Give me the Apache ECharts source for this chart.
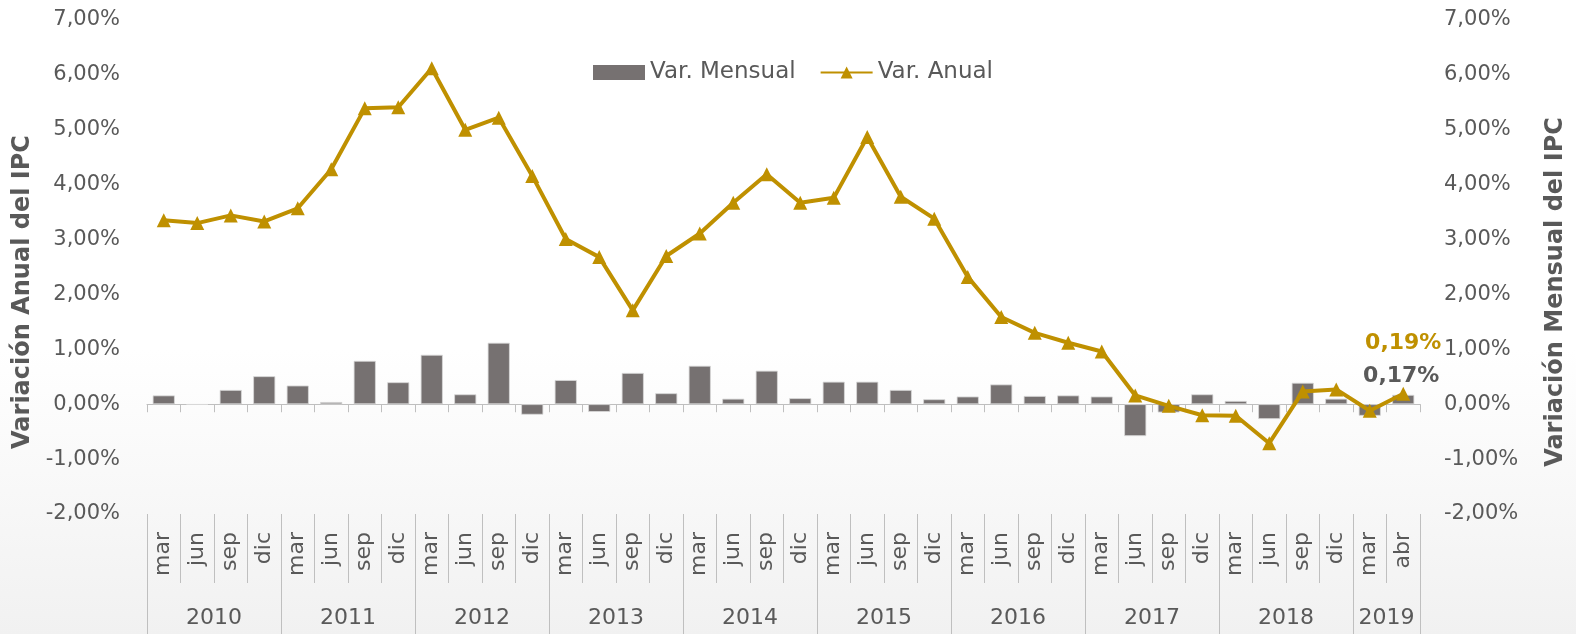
<!DOCTYPE html>
<html>
<head>
<meta charset="utf-8">
<script src="https://cdn.jsdelivr.net/npm/echarts@6/dist/echarts.min.js"></script>
<style>
html,body{margin:0;padding:0;background:#fff;}
#chart{width:1576px;height:634px;}
</style>
</head>
<body>
<div id="chart"></div>
<script>
// ---- data ----
const monthLabels = [
  'mar','jun','sep','dic', 'mar','jun','sep','dic', 'mar','jun','sep','dic',
  'mar','jun','sep','dic', 'mar','jun','sep','dic', 'mar','jun','sep','dic',
  'mar','jun','sep','dic', 'mar','jun','sep','dic', 'mar','jun','sep','dic',
  'mar','abr'
];
const years = ['2010','2011','2012','2013','2014','2015','2016','2017','2018','2019'];
const yearSpans = [4,4,4,4,4,4,4,4,4,2];
const varMensual = [
  0.16, -0.01, 0.26, 0.51,   0.34, 0.04, 0.79, 0.40,   0.90, 0.18, 1.12, -0.19,
  0.44, -0.14, 0.57, 0.20,   0.70, 0.10, 0.61, 0.11,   0.41, 0.41, 0.26, 0.09,
  0.14, 0.36, 0.15, 0.16,    0.14, -0.58, -0.15, 0.18, 0.06, -0.27, 0.39, 0.10,
  -0.21, 0.17
];
const varAnual = [
  3.35, 3.30, 3.44, 3.33,   3.57, 4.28, 5.39, 5.41,   6.12, 5.00, 5.22, 4.16,
  3.01, 2.68, 1.71, 2.70,   3.11, 3.67, 4.19, 3.67,   3.76, 4.87, 3.78, 3.38,
  2.32, 1.59, 1.30, 1.12,   0.96, 0.16, -0.03, -0.20, -0.21, -0.71, 0.23, 0.27,
  -0.12, 0.19
];
const yTicks = {min: -2, max: 7, step: 1};

// ---- helpers ----
const fmt = v => v.toFixed(2).replace('.', ',') + '%';
const yearBounds = [0];
yearSpans.forEach(s => yearBounds.push(yearBounds[yearBounds.length - 1] + s));
const yearCenters = yearSpans.map((s, i) => yearBounds[i] + s / 2);
const nCat = monthLabels.length;
const FONT = "'DejaVu Sans', 'Open Sans', sans-serif";
const TXT = '#595959';
const AXC = '#BFBFBF';

const chart = echarts.init(document.getElementById('chart'), null, {renderer: 'canvas'});
chart.setOption({
  animation: false,
  backgroundColor: {
    type: 'linear', x: 0, y: 0, x2: 0, y2: 1,
    colorStops: [
      {offset: 0, color: '#ffffff'},
      {offset: 0.55, color: '#ffffff'},
      {offset: 1, color: '#f1f1f1'}
    ]
  },
  textStyle: {fontFamily: FONT},
  grid: {left: 147, right: 151, top: 20, bottom: 120, containLabel: false},
  legend: {
    left: 588, top: 56,
    itemWidth: 52, itemHeight: 15, itemGap: 24,
    textStyle: {color: TXT, fontSize: 23, fontFamily: FONT},
    data: [{name: 'Var. Mensual', icon: 'rect', itemStyle: {borderWidth: 0}}, {name: 'Var. Anual'}]
  },
  xAxis: [
    {
      type: 'category', data: monthLabels, position: 'bottom',
      axisLine: {onZero: true, onZeroAxisIndex: 0, lineStyle: {color: AXC, width: 1}},
      axisTick: {show: true, length: 8, interval: 0, lineStyle: {color: AXC}},
      axisLabel: {show: false},
      splitLine: {show: false}
    },
    {
      type: 'category', data: monthLabels, position: 'bottom',
      axisLine: {show: false, onZero: false},
      axisTick: {show: true, length: 69, interval: 0, lineStyle: {color: AXC}},
      axisLabel: {show: true, interval: 0, rotate: 90, margin: 18, color: TXT, fontSize: 22, fontFamily: FONT},
      splitLine: {show: false}
    },
    {
      type: 'value', min: 0, max: nCat, position: 'bottom',
      axisLine: {show: false, onZero: false},
      axisTick: {show: true, length: 120, customValues: yearBounds, lineStyle: {color: AXC}},
      axisLabel: {
        show: true, customValues: yearCenters, margin: 93, color: TXT, fontSize: 22, fontFamily: FONT,
        formatter: v => { const i = yearCenters.indexOf(v); return i >= 0 ? years[i] : ''; }
      },
      splitLine: {show: false}
    }
  ],
  yAxis: [
    {
      type: 'value', position: 'left', min: yTicks.min, max: yTicks.max, interval: yTicks.step,
      name: 'Variación Anual del IPC', nameLocation: 'middle', nameGap: 104, nameRotate: 90,
      nameTextStyle: {color: TXT, fontSize: 24, fontWeight: 'bold', fontFamily: FONT, padding: [0, 50, 0, 0]},
      axisLine: {show: false}, axisTick: {show: false}, splitLine: {show: false},
      axisLabel: {formatter: fmt, color: TXT, fontSize: 21, margin: 27, fontFamily: FONT}
    },
    {
      type: 'value', position: 'right', min: yTicks.min, max: yTicks.max, interval: yTicks.step,
      name: 'Variación Mensual del IPC', nameLocation: 'middle', nameGap: 124, nameRotate: 90,
      nameTextStyle: {color: TXT, fontSize: 24, fontWeight: 'bold', fontFamily: FONT, padding: [0, 50, 0, 0]},
      axisLine: {show: false}, axisTick: {show: false}, splitLine: {show: false},
      axisLabel: {formatter: fmt, color: TXT, fontSize: 21, margin: 24, fontFamily: FONT}
    }
  ],
  series: [
    {
      name: 'Var. Mensual', type: 'bar', xAxisIndex: 0, yAxisIndex: 1,
      data: varMensual, barWidth: '66%',
      itemStyle: {color: '#767171', borderColor: '#d9d9d9', borderWidth: 0.8},
      label: {
        show: true, position: 'top', distance: 8, offset: [-2, 0],
        color: TXT, fontSize: 22, fontWeight: 'bold', fontFamily: FONT,
        formatter: p => p.dataIndex === nCat - 1 ? fmt(p.value) : ''
      },
      z: 2
    },
    {
      name: 'Var. Anual', type: 'line', xAxisIndex: 0, yAxisIndex: 0,
      data: varAnual, symbol: 'triangle', symbolSize: 14,
      lineStyle: {color: '#BF9000', width: 4},
      itemStyle: {color: '#BF9000'},
      label: {
        show: true, position: 'top', distance: 33, offset: [0, 0],
        color: '#BF9000', fontSize: 22, fontWeight: 'bold', fontFamily: FONT,
        formatter: p => p.dataIndex === nCat - 1 ? fmt(p.value) : ''
      },
      z: 5
    }
  ]
});
</script>
</body>
</html>
